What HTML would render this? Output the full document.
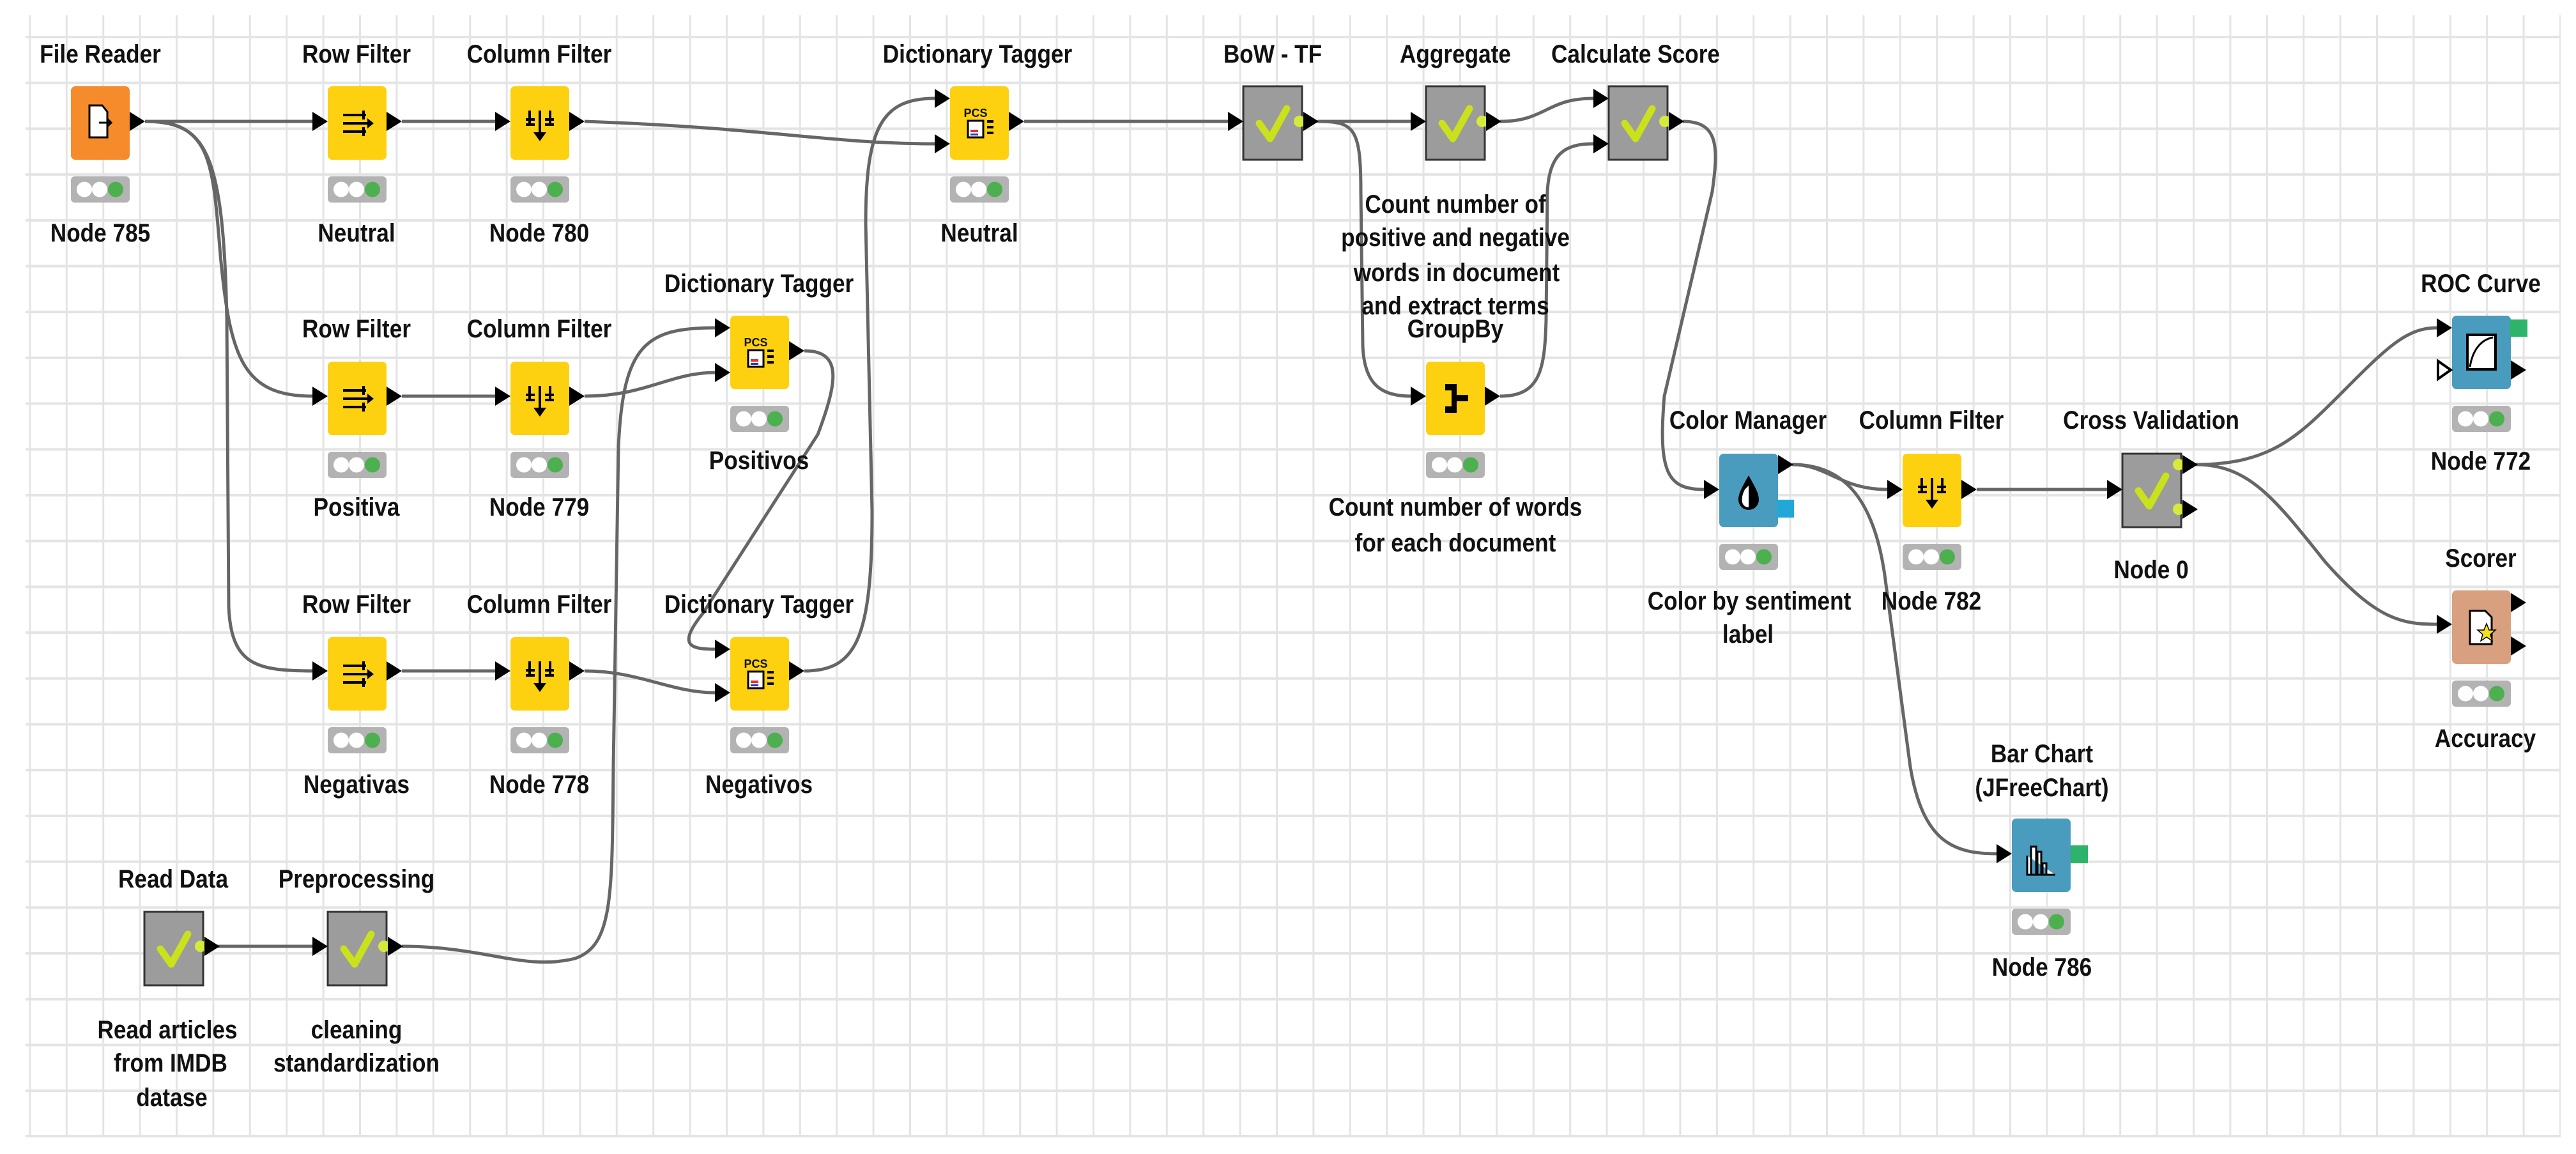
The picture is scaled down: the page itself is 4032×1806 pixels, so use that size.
<!DOCTYPE html>
<html><head><meta charset="utf-8"><style>
html,body{margin:0;padding:0;background:#fff;}
svg{display:block;}
text{font-family:"Liberation Sans",sans-serif;font-weight:bold;font-size:40px;fill:#111;text-anchor:middle;}
</style></head><body>
<svg width="4032" height="1806" viewBox="0 0 4032 1806" xmlns="http://www.w3.org/2000/svg">
<defs>
<pattern id="gv" x="45.4" y="0" width="57.4" height="1806" patternUnits="userSpaceOnUse"><rect x="0" y="0" width="3" height="1806" fill="#e4e4e4"/></pattern>
<pattern id="gh" x="0" y="56" width="4032" height="71.7" patternUnits="userSpaceOnUse"><rect x="0" y="0" width="4032" height="4" fill="#e4e4e4"/></pattern>
<g id="tl"><rect x="0" y="0" width="92" height="41" rx="6" fill="#b3b3b3"/><circle cx="21" cy="20.5" r="12" fill="#fff"/><circle cx="45" cy="20.5" r="12" fill="#fff"/><circle cx="70" cy="20.5" r="12" fill="#4cb04e"/></g>
<polygon id="inT" points="-24,-15 0,0 -24,15" fill="#000"/>
<polygon id="outT" points="0,-15 24,0 0,15" fill="#000"/>
<g id="chk"><path d="M25,58 L42,82 L68,35" stroke="#c9e21c" stroke-width="11" fill="none" stroke-linecap="round" stroke-linejoin="round"/></g>
<g id="rf"><path d="M24,45 H60 M24,58 H68 M24,71 H60 M56,38 V52 M56,64 V78" stroke="#000" stroke-width="4" fill="none"/><polygon points="62,50 72,58 62,66" fill="#000"/></g>
<g id="cf"><path d="M30,38 V60 M46,38 V82 M62,38 V60 M24,52 H38 M54,52 H68 M24,60 H38 M54,60 H68" stroke="#000" stroke-width="4" fill="none"/><polygon points="36,72 56,72 46,86" fill="#000"/></g>
<g id="dt"><text x="40" y="48" style="font-size:18px" transform="scale(1,1)">PCS</text><rect x="28" y="54" width="24" height="26" fill="#fff" stroke="#000" stroke-width="3"/><rect x="32" y="68" width="12" height="4" fill="#d33"/><rect x="32" y="74" width="12" height="3" fill="#33c"/><path d="M58,55 H68 M58,64 H68 M58,73 H68" stroke="#000" stroke-width="4"/></g>
</defs>
<rect x="40" y="24" width="3968" height="1756" fill="url(#gv)"/>
<rect x="40" y="24" width="3968" height="1756" fill="url(#gh)"/>
<rect x="40" y="1776" width="3968" height="4" fill="#e4e4e4"/>

<!-- edges -->
<g stroke="#666" stroke-width="5" fill="none">
<path d="M227,190 L489,190"/>
<path d="M227,190 C330,190 333,250 345,400 C360,560 380,620 489,620"/>
<path d="M227,190 C320,190 350,230 355,500 L358,950 C362,1040 400,1050 489,1050"/>
<path d="M629,190 L775,190"/><path d="M629,620 L775,620"/><path d="M629,1050 L775,1050"/>
<path d="M915,190 C1200,200 1300,225 1463,225"/>
<path d="M915,620 C1010,620 1050,583 1119,583"/>
<path d="M915,1050 C1000,1050 1050,1084 1119,1084"/>
<path d="M629,1481 C760,1481 820,1520 900,1500 C960,1480 958,1400 960,1200 L968,700 C975,540 1010,513 1119,513"/>
<path d="M1259,549 C1320,549 1310,600 1280,680 L1100,960 C1060,1010 1080,1016 1119,1016"/>
<path d="M1259,1050 C1340,1050 1365,1000 1365,800 L1355,350 C1355,200 1380,154 1463,154"/>
<path d="M1603,190 L1922,190"/>
<path d="M2062,190 L2208,190"/>
<path d="M2062,190 C2120,190 2130,200 2130,300 L2133,540 C2135,600 2160,620 2208,620"/>
<path d="M2348,190 C2420,190 2420,154 2494,154"/>
<path d="M2348,620 C2410,620 2418,580 2420,500 L2422,300 C2425,240 2450,225 2494,225"/>
<path d="M2634,190 C2690,190 2690,230 2680,300 L2605,620 C2595,740 2610,766 2667,766"/>
<path d="M2805,727 C2860,727 2880,766 2954,766"/>
<path d="M2805,727 C2870,727 2930,760 2950,900 L2990,1200 C3010,1320 3060,1336 3125,1336"/>
<path d="M3094,766 L3298,766"/>
<path d="M3436,727 C3560,727 3600,680 3680,600 C3740,540 3770,513 3814,513"/>
<path d="M3436,727 C3520,727 3560,780 3640,880 C3720,970 3760,977 3814,977"/>
<path d="M253,1481 L489,1481"/>
</g>

<!-- File Reader -->
<rect x="111" y="135" width="92" height="115" rx="7" fill="#f58b2b"/>
<path d="M140,165 H160 L168,175 V215 H140 Z" fill="#fff" stroke="#000" stroke-width="3"/><path d="M155,192 H174 M168,186 L174,192 L168,198" stroke="#000" stroke-width="3" fill="none"/>
<use href="#outT" x="203" y="190"/><use href="#tl" x="111" y="276"/>

<!-- Row/Column filters -->
<g transform="translate(513,135)"><rect width="92" height="115" rx="7" fill="#fdd10f"/><use href="#rf"/><use href="#tl" y="141"/></g>
<use href="#inT" x="513" y="190"/><use href="#outT" x="605" y="190"/>
<g transform="translate(799,135)"><rect width="92" height="115" rx="7" fill="#fdd10f"/><use href="#cf"/><use href="#tl" y="141"/></g>
<use href="#inT" x="799" y="190"/><use href="#outT" x="891" y="190"/>
<g transform="translate(513,566)"><rect width="92" height="115" rx="7" fill="#fdd10f"/><use href="#rf"/><use href="#tl" y="141"/></g>
<use href="#inT" x="513" y="620"/><use href="#outT" x="605" y="620"/>
<g transform="translate(799,566)"><rect width="92" height="115" rx="7" fill="#fdd10f"/><use href="#cf"/><use href="#tl" y="141"/></g>
<use href="#inT" x="799" y="620"/><use href="#outT" x="891" y="620"/>
<g transform="translate(513,997)"><rect width="92" height="115" rx="7" fill="#fdd10f"/><use href="#rf"/><use href="#tl" y="141"/></g>
<use href="#inT" x="513" y="1050"/><use href="#outT" x="605" y="1050"/>
<g transform="translate(799,997)"><rect width="92" height="115" rx="7" fill="#fdd10f"/><use href="#cf"/><use href="#tl" y="141"/></g>
<use href="#inT" x="799" y="1050"/><use href="#outT" x="891" y="1050"/>

<!-- Dictionary taggers -->
<g transform="translate(1143,494)"><rect width="92" height="115" rx="7" fill="#fdd10f"/><use href="#dt"/><use href="#tl" y="141"/></g>
<use href="#inT" x="1143" y="513"/><use href="#inT" x="1143" y="583"/><use href="#outT" x="1235" y="549"/>
<g transform="translate(1143,997)"><rect width="92" height="115" rx="7" fill="#fdd10f"/><use href="#dt"/><use href="#tl" y="141"/></g>
<use href="#inT" x="1143" y="1016"/><use href="#inT" x="1143" y="1084"/><use href="#outT" x="1235" y="1050"/>
<g transform="translate(1487,135)"><rect width="92" height="115" rx="7" fill="#fdd10f"/><use href="#dt"/><use href="#tl" y="141"/></g>
<use href="#inT" x="1487" y="154"/><use href="#inT" x="1487" y="225"/><use href="#outT" x="1579" y="190"/>

<!-- Gray metanodes -->
<g transform="translate(1946,135)"><rect width="92" height="115" fill="#9c9c9c" stroke="#333" stroke-width="3"/><use href="#chk"/><circle cx="88" cy="55" r="9" fill="#d6ea3c"/></g>
<use href="#inT" x="1946" y="190"/><use href="#outT" x="2040" y="190"/>
<g transform="translate(2232,135)"><rect width="92" height="115" fill="#9c9c9c" stroke="#333" stroke-width="3"/><use href="#chk"/><circle cx="88" cy="55" r="9" fill="#d6ea3c"/></g>
<use href="#inT" x="2232" y="190"/><use href="#outT" x="2326" y="190"/>
<g transform="translate(2518,135)"><rect width="92" height="115" fill="#9c9c9c" stroke="#333" stroke-width="3"/><use href="#chk"/><circle cx="88" cy="55" r="9" fill="#d6ea3c"/></g>
<use href="#inT" x="2518" y="154"/><use href="#inT" x="2518" y="225"/><use href="#outT" x="2612" y="190"/>
<g transform="translate(3322,710)"><rect width="92" height="115" fill="#9c9c9c" stroke="#333" stroke-width="3"/><use href="#chk"/><circle cx="88" cy="17" r="9" fill="#d6ea3c"/><circle cx="88" cy="87" r="9" fill="#d6ea3c"/></g>
<use href="#inT" x="3322" y="766"/><use href="#outT" x="3416" y="727"/><use href="#outT" x="3416" y="797"/>
<g transform="translate(226,1427)"><rect width="92" height="115" fill="#9c9c9c" stroke="#333" stroke-width="3"/><use href="#chk"/><circle cx="88" cy="54" r="9" fill="#d6ea3c"/></g>
<use href="#outT" x="320" y="1481"/>
<g transform="translate(513,1427)"><rect width="92" height="115" fill="#9c9c9c" stroke="#333" stroke-width="3"/><use href="#chk"/><circle cx="88" cy="54" r="9" fill="#d6ea3c"/></g>
<use href="#inT" x="513" y="1481"/><use href="#outT" x="607" y="1481"/>

<!-- GroupBy -->
<g transform="translate(2232,566)"><rect width="92" height="115" rx="7" fill="#fdd10f"/><path d="M30,35 H48 V52 H66 V62 H48 V80 H30 V70 H40 V45 H30 Z" fill="#000"/><use href="#tl" y="141"/></g>
<use href="#inT" x="2232" y="620"/><use href="#outT" x="2324" y="620"/>

<!-- Color Manager -->
<g transform="translate(2691,710)"><rect width="92" height="115" rx="7" fill="#4a9cbf"/><path d="M46,34 C36,52 30,62 30,72 A16,16 0 0 0 62,72 C62,62 56,52 46,34 Z" fill="#000"/><path d="M40,56 C36,64 35,70 36,76 A10,10 0 0 0 46,84 L46,50 Z" fill="#fff"/><use href="#tl" y="141"/></g>
<rect x="2781" y="782" width="27" height="28" fill="#22a8d8"/>
<use href="#inT" x="2691" y="766"/><use href="#outT" x="2783" y="727"/>

<!-- CF782 -->
<g transform="translate(2978,710)"><rect width="92" height="115" rx="7" fill="#fdd10f"/><use href="#cf"/><use href="#tl" y="141"/></g>
<use href="#inT" x="2978" y="766"/><use href="#outT" x="3070" y="766"/>

<!-- ROC -->
<g transform="translate(3838,494)"><rect width="92" height="115" rx="7" fill="#4a9cbf"/><rect x="24" y="30" width="44" height="54" fill="#fff" stroke="#000" stroke-width="4"/><path d="M28,80 C32,55 44,38 64,34" stroke="#000" stroke-width="3" fill="none"/><use href="#tl" y="141"/></g>
<rect x="3928" y="500" width="28" height="27" fill="#2db36a"/>
<use href="#inT" x="3838" y="513"/><polygon points="3816,565 3836,579 3816,593" fill="#fff" stroke="#000" stroke-width="4"/><use href="#outT" x="3930" y="579"/>

<!-- Scorer -->
<g transform="translate(3838,924)"><rect width="92" height="115" rx="7" fill="#d9a080"/><path d="M28,32 H52 L62,42 V84 H28 Z" fill="#fff" stroke="#000" stroke-width="3"/><polygon points="54,52 58,62 68,62 60,69 63,79 54,73 45,79 48,69 40,62 50,62" fill="#f5e11b" stroke="#000" stroke-width="1.5"/><use href="#tl" y="141"/></g>
<use href="#inT" x="3838" y="977"/><use href="#outT" x="3930" y="943"/><use href="#outT" x="3930" y="1011"/>

<!-- Bar chart -->
<g transform="translate(3149,1281)"><rect width="92" height="115" rx="7" fill="#4a9cbf"/><path d="M24,58 V88 H68 M30,88 V44 H38 V88 M40,88 V52 H46 V88 M48,88 V70 H54 V88" stroke="#000" stroke-width="3" fill="#fff"/><use href="#tl" y="141"/></g>
<rect x="3241" y="1323" width="27" height="28" fill="#2db36a"/>
<use href="#inT" x="3149" y="1336"/>

<!-- labels -->
<g>
<text transform="translate(157,98) scale(.88,1)">File Reader</text>
<text transform="translate(558,98) scale(.88,1)">Row Filter</text>
<text transform="translate(844,98) scale(.88,1)">Column Filter</text>
<text transform="translate(1530,98) scale(.88,1)">Dictionary Tagger</text>
<text transform="translate(1992,98) scale(.88,1)">BoW - TF</text>
<text transform="translate(2278,98) scale(.88,1)">Aggregate</text>
<text transform="translate(2560,98) scale(.88,1)">Calculate Score</text>
<text transform="translate(157,378) scale(.88,1)">Node 785</text>
<text transform="translate(558,378) scale(.88,1)">Neutral</text>
<text transform="translate(844,378) scale(.88,1)">Node 780</text>
<text transform="translate(1533,378) scale(.88,1)">Neutral</text>
<text transform="translate(558,528) scale(.88,1)">Row Filter</text>
<text transform="translate(844,528) scale(.88,1)">Column Filter</text>
<text transform="translate(1188,457) scale(.88,1)">Dictionary Tagger</text>
<text transform="translate(558,807) scale(.88,1)">Positiva</text>
<text transform="translate(844,807) scale(.88,1)">Node 779</text>
<text transform="translate(1188,734) scale(.88,1)">Positivos</text>
<text transform="translate(558,959) scale(.88,1)">Row Filter</text>
<text transform="translate(844,959) scale(.88,1)">Column Filter</text>
<text transform="translate(1188,959) scale(.88,1)">Dictionary Tagger</text>
<text transform="translate(558,1241) scale(.88,1)">Negativas</text>
<text transform="translate(844,1241) scale(.88,1)">Node 778</text>
<text transform="translate(1188,1241) scale(.88,1)">Negativos</text>
<text transform="translate(2278,333) scale(.88,1)">Count number of</text>
<text transform="translate(2278,385) scale(.88,1)">positive and negative</text>
<text transform="translate(2280,440) scale(.88,1)">words in document</text>
<text transform="translate(2278,492) scale(.88,1)">and extract terms</text>
<text transform="translate(2278,528) scale(.88,1)">GroupBy</text>
<text transform="translate(2278,807) scale(.88,1)">Count number of words</text>
<text transform="translate(2278,863) scale(.88,1)">for each document</text>
<text transform="translate(2736,671) scale(.88,1)">Color Manager</text>
<text transform="translate(3023,671) scale(.88,1)">Column Filter</text>
<text transform="translate(3367,671) scale(.88,1)">Cross Validation</text>
<text transform="translate(3883,457) scale(.88,1)">ROC Curve</text>
<text transform="translate(3883,735) scale(.88,1)">Node 772</text>
<text transform="translate(3367,905) scale(.88,1)">Node 0</text>
<text transform="translate(2738,954) scale(.88,1)">Color by sentiment</text>
<text transform="translate(2736,1006) scale(.88,1)">label</text>
<text transform="translate(3023,954) scale(.88,1)">Node 782</text>
<text transform="translate(3883,887) scale(.88,1)">Scorer</text>
<text transform="translate(3890,1169) scale(.88,1)">Accuracy</text>
<text transform="translate(3196,1193) scale(.88,1)">Bar Chart</text>
<text transform="translate(3196,1246) scale(.88,1)">(JFreeChart)</text>
<text transform="translate(3196,1527) scale(.88,1)">Node 786</text>
<text transform="translate(271,1389) scale(.88,1)">Read Data</text>
<text transform="translate(558,1389) scale(.88,1)">Preprocessing</text>
<text transform="translate(262,1625) scale(.88,1)">Read articles</text>
<text transform="translate(267,1677) scale(.88,1)">from IMDB</text>
<text transform="translate(269,1731) scale(.88,1)">datase</text>
<text transform="translate(558,1625) scale(.88,1)">cleaning</text>
<text transform="translate(558,1677) scale(.88,1)">standardization</text>
</g>
</svg>
</body></html>
